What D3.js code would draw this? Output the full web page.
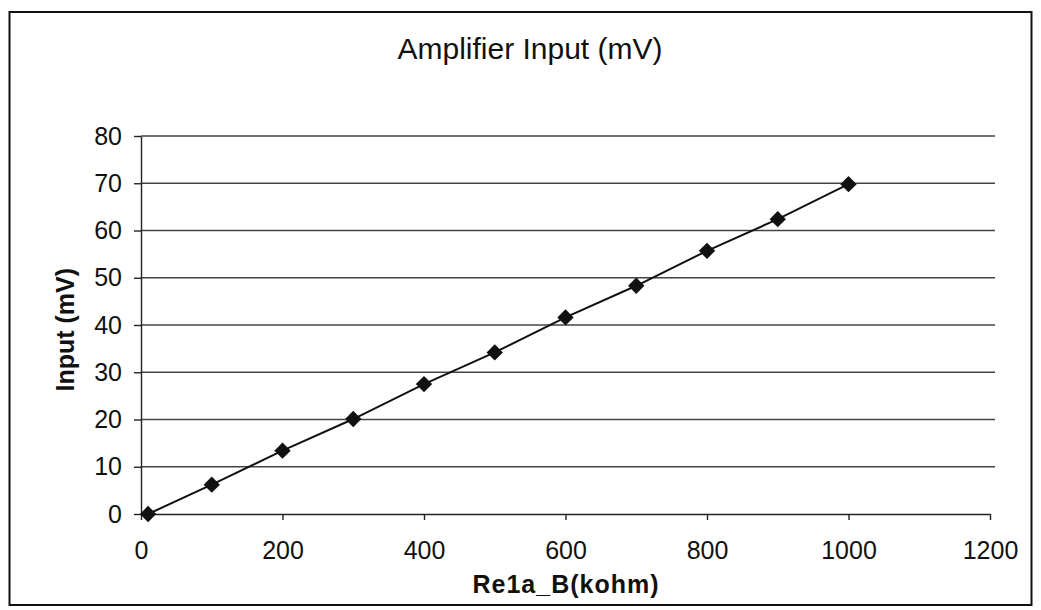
<!DOCTYPE html>
<html>
<head>
<meta charset="utf-8">
<script src="https://cdn.jsdelivr.net/npm/d3@7"></script>
<style>
  body { margin: 0; background: #fff; }
  text { font-family: "Liberation Sans", Arial, sans-serif; fill: #111; }
</style>
</head>
<body>
<svg id="chart" width="1041" height="610"></svg>
<script>
// resistance (kohm) and measured input (mV)
const resistance = [10, 100, 200, 300, 400, 500, 600, 700, 800, 900, 1000];
const inputMv = [0, 6.2, 13.4, 20.1, 27.5, 34.2, 41.6, 48.3, 55.7, 62.4, 69.8];
const xTicks = [0, 200, 400, 600, 800, 1000, 1200];
const yTicks = [0, 10, 20, 30, 40, 50, 60, 70, 80];

const svg = d3.select('#chart');
const margin = {left: 141, right: 51, top: 136, bottom: 96};
const width = 1041;
const height = 610;

const x = d3.scaleLinear()
  .domain([0, 1200])
  .range([margin.left, width - margin.right]);

const y = d3.scaleLinear()
  .domain([0, 80])
  .range([height - margin.bottom, margin.top]);

// outer frame
svg.append('rect')
  .attr('x', 9.5).attr('y', 12)
  .attr('width', 1022).attr('height', 593)
  .attr('fill', 'none')
  .attr('stroke', '#111')
  .attr('stroke-width', 2);

// gridlines
svg.append('g')
  .selectAll('line')
  .data(yTicks.slice(1))
  .enter().append('line')
    .attr('x1', x(0)).attr('x2', x(1200) + 5)
    .attr('y1', d => y(d)).attr('y2', d => y(d))
    .attr('stroke', '#444')
    .attr('stroke-width', 1.3);

const fmt = d3.format('d');

const xAxis = svg.append('g')
  .attr('transform', `translate(0,${y(0)})`)
  .call(d3.axisBottom(x).tickValues(xTicks).tickFormat(fmt)
    .tickSize(6).tickPadding(21).tickSizeOuter(0));

const yAxis = svg.append('g')
  .attr('transform', `translate(${x(0)},0)`)
  .call(d3.axisLeft(y).tickValues(yTicks).tickFormat(fmt)
    .tickSize(7).tickPadding(12).tickSizeOuter(0));

[xAxis, yAxis].forEach(a => {
  a.selectAll('path, line').attr('stroke', '#222').attr('stroke-width', 1.4);
  a.selectAll('text')
    .style('font-size', '25px')
    .style('font-family', '"Liberation Sans", Arial, sans-serif')
    .attr('fill', '#111');
});

const line = d3.line()
  .x((d, i) => x(resistance[i]))
  .y(d => y(d));

svg.append('path')
  .datum(inputMv)
  .attr('d', line)
  .attr('fill', 'none')
  .attr('stroke', '#111')
  .attr('stroke-width', 2);

svg.append('g')
  .selectAll('path')
  .data(inputMv)
  .enter().append('path')
    .attr('transform', (d, i) => `translate(${x(resistance[i])},${y(d)})`)
    .attr('d', d3.symbol().type(d3.symbolDiamond2).size(170))
    .attr('fill', '#111');

svg.append('text')
  .attr('x', 530).attr('y', 59)
  .attr('text-anchor', 'middle')
  .style('font-size', '30px')
  .text('Amplifier Input (mV)');

svg.append('text')
  .attr('x', 566).attr('y', 593)
  .attr('text-anchor', 'middle')
  .style('font-size', '25px')
  .style('font-weight', 'bold')
  .style('letter-spacing', '1px')
  .text('Re1a_B(kohm)');

svg.append('text')
  .attr('transform', `translate(74,${y(39)}) rotate(-90)`)
  .attr('text-anchor', 'middle')
  .style('font-size', '25px')
  .style('font-weight', 'bold')
  .text('Input (mV)');
</script>
</body>
</html>
